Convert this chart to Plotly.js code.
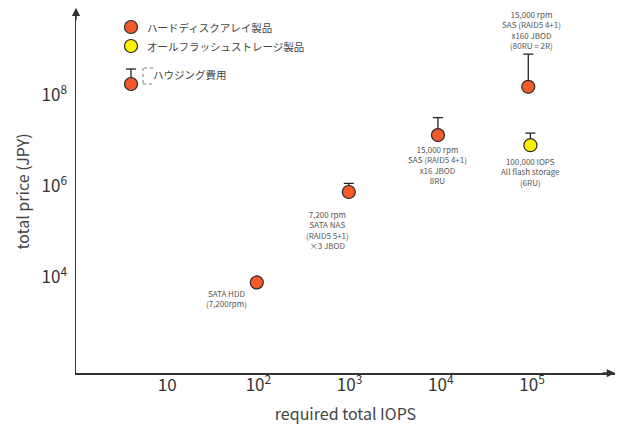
<!DOCTYPE html>
<html><head><meta charset="utf-8">
<script src="https://cdn.plot.ly/plotly-3.0.1.min.js"></script>
<style>html,body{margin:0;padding:0;background:#fff}</style>
</head><body><div id="chart" style="width:617px;height:428px"></div>
<script>
// ---- data ----
const hddIops = [96, 980, 9300, 91000];
const hddPrice = [7600, 740000, 13200000, 152000000];
const hddHousing = [0, 410000, 18800000, 640000000];
const hddLabels = [
  "SATA HDD<br>(7,200rpm)",
  "7,200 rpm<br>SATA NAS<br>(RAID5 5+1)<br>×3 JBOD",
  "15,000 rpm<br>SAS (RAID5 4+1)<br>x16 JBOD<br>8RU",
  "15,000 rpm<br>SAS (RAID5 4+1)<br>x160 JBOD<br>(80RU = 2R)"
];
const flashIops = [96000];
const flashPrice = [7900000];
const flashHousing = [6600000];
const flashLabels = ["100,000 IOPS<br>All flash storage<br>(6RU)"];
const xTickVals = [10, 100, 1000, 10000, 100000];
const xTickText = ["10", "10<sup>2</sup>", "10<sup>3</sup>", "10<sup>4</sup>", "10<sup>5</sup>"];
const yTickVals = [1e4, 1e6, 1e8];
const yTickText = ["10<sup>4</sup>", "10<sup>6</sup>", "10<sup>8</sup>"];
const legendLabels = ["ハードディスクアレイ製品", "オールフラッシュストレージ製品", "ハウジング費用"];
const xTitle = "required total IOPS";
const yTitle = "total price (JPY)";

// ---- styling / layout ----
const W = 617, H = 428;
const M = {l: 76, r: 2, t: 10, b: 55};
const FONT = "Noto Sans CJK JP, Noto Sans, sans-serif";
const RED = "#f15a29", YEL = "#fff200", EDGE = "#2a2a2a";
const pw = W - M.l - M.r, ph = H - M.t - M.b;
const px = x => (x - M.l) / pw;
const py = y => (H - M.b - y) / ph;

const markerStyle = c => ({size: 13, color: c, line: {color: EDGE, width: 1.2}});
const errStyle = (arr) => ({type: 'data', symmetric: false, array: arr,
  arrayminus: arr.map(() => 0), color: '#222', thickness: 1.3, width: 5});

const traces = [
  {x: hddIops, y: hddPrice, type: 'scatter', mode: 'markers', name: legendLabels[0],
   marker: markerStyle(RED), error_y: errStyle(hddHousing), showlegend: false, hoverinfo: 'skip'},
  {x: flashIops, y: flashPrice, type: 'scatter', mode: 'markers', name: legendLabels[1],
   marker: markerStyle(YEL), error_y: errStyle(flashHousing), showlegend: false, hoverinfo: 'skip'}
];

// label offsets (pixels) relative to each point
const hddLabelShift = [[-30, -16], [-21, -38], [0, -30], [3, 57]];
const flashLabelShift = [[0, -27]];
const labelFont = {family: FONT, size: 8, color: '#555'};
const annotations = [];
hddLabels.forEach((t, i) => annotations.push({x: Math.log10(hddIops[i]), y: Math.log10(hddPrice[i]),
  xref: 'x', yref: 'y', text: t, showarrow: false, xanchor: 'center', yanchor: 'middle',
  xshift: hddLabelShift[i][0], yshift: hddLabelShift[i][1], font: labelFont}));
flashLabels.forEach((t, i) => annotations.push({x: Math.log10(flashIops[i]), y: Math.log10(flashPrice[i]),
  xref: 'x', yref: 'y', text: t, showarrow: false, xanchor: 'center', yanchor: 'middle',
  xshift: flashLabelShift[i][0], yshift: flashLabelShift[i][1], font: labelFont}));

// legend (drawn in paper space)
const legFont = {family: FONT, size: 10.5, color: '#444'};
annotations.push({xref: 'paper', yref: 'paper', x: px(145), y: py(27), text: legendLabels[0],
  showarrow: false, xanchor: 'left', yanchor: 'middle', font: legFont});
annotations.push({xref: 'paper', yref: 'paper', x: px(145), y: py(46), text: legendLabels[1],
  showarrow: false, xanchor: 'left', yanchor: 'middle', font: legFont});
annotations.push({xref: 'paper', yref: 'paper', x: px(151), y: py(74), text: legendLabels[2],
  showarrow: false, xanchor: 'left', yanchor: 'middle', font: legFont});

// axis arrows
annotations.push({xref: 'paper', yref: 'paper', x: 1, y: 0, ax: -14, ay: 0, text: '',
  showarrow: true, arrowhead: 2, arrowsize: 1.1, arrowwidth: 1.5, arrowcolor: '#333'});
annotations.push({xref: 'paper', yref: 'paper', x: 0, y: 1.006, ax: 0, ay: 14, text: '',
  showarrow: true, arrowhead: 2, arrowsize: 1.1, arrowwidth: 1.5, arrowcolor: '#333'});

const circ = (cx, cy, r, fill) => ({type: 'circle', xref: 'paper', yref: 'paper',
  xsizemode: 'pixel', ysizemode: 'pixel', xanchor: px(cx), yanchor: py(cy),
  x0: -r, x1: r, y0: -r, y1: r, fillcolor: fill, line: {color: EDGE, width: 1.2}, layer: 'above'});
const seg = (x0, y0, x1, y1, extra) => Object.assign({type: 'line', xref: 'paper', yref: 'paper',
  x0: px(x0), y0: py(y0), x1: px(x1), y1: py(y1), line: {color: '#222', width: 1.3}, layer: 'above'}, extra || {});
const dashLine = {line: {color: '#777', width: 1, dash: 'dot'}};
const shapes = [
  circ(131, 27, 6.5, RED),
  circ(131, 46, 6.5, YEL),
  seg(131, 69, 131, 83),
  seg(126, 69, 136, 69),
  circ(131, 84, 6.5, RED),
  seg(153, 68, 143, 68, dashLine),
  seg(143, 68, 143, 84, dashLine),
  seg(143, 84, 153, 84, dashLine)
];

const axisCommon = {type: 'log', showgrid: false, zeroline: false, showline: true,
  linecolor: '#333', linewidth: 1.5, ticks: '', tickmode: 'array',
  tickfont: {family: FONT, size: 17, color: '#333'}};

const layout = {
  width: W, height: H, margin: M, paper_bgcolor: '#fff', plot_bgcolor: '#fff',
  showlegend: false,
  xaxis: Object.assign({}, axisCommon, {range: [0, 5.91], tickvals: xTickVals, ticktext: xTickText,
    ticklabelstandoff: -4,
    title: {text: xTitle, font: {family: FONT, size: 16, color: '#444'}, standoff: 14}}),
  yaxis: Object.assign({}, axisCommon, {range: [1.89, 9.87], tickvals: yTickVals, ticktext: yTickText,
    ticklabelstandoff: 4,
    title: {text: yTitle, font: {family: FONT, size: 16, color: '#444'}, standoff: 8}}),
  annotations: annotations, shapes: shapes
};

Plotly.newPlot('chart', traces, layout, {staticPlot: true, displayModeBar: false});
</script></body></html>
